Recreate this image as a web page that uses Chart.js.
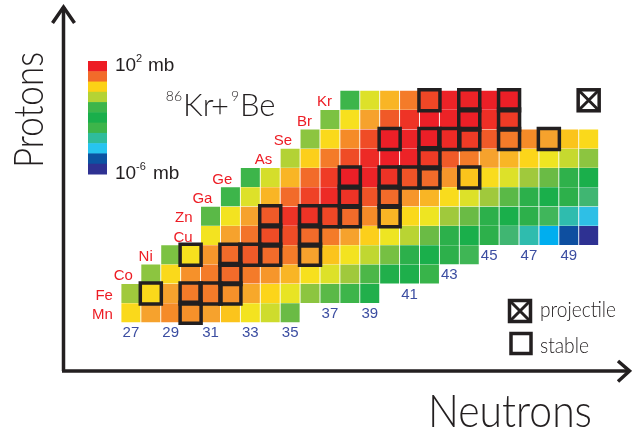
<!DOCTYPE html>
<html>
<head>
<meta charset="utf-8">
<script src="https://cdn.jsdelivr.net/npm/chart.js@4.4.1/dist/chart.umd.min.js"></script>
<style>
  html, body { margin: 0; padding: 0; background: #fff; }
  canvas { display: block; }
</style>
</head>
<body>
<canvas id="graficoNuclidos" width="632" height="434"></canvas>
<script>
// rows of the chart: element, proton number, first neutron number drawn
const elements = ['Mn', 'Fe', 'Co', 'Ni', 'Cu', 'Zn', 'Ga', 'Ge', 'As', 'Se', 'Br', 'Kr'];
const protons  = [25, 26, 27, 28, 29, 30, 31, 32, 33, 34, 35, 36];
const firstN   = [27, 27, 28, 29, 31, 31, 32, 33, 35, 36, 37, 38];

// log10 of the cross section (mb), one value per neutron number starting at firstN
const sigMn = [0.5, 0.95, 1.15, 1.1, 0.95, 0.7, 0.35, 0.05, -0.75];
const sigFe = [-0.3, 0.5, 0.95, 1.25, 1.25, 1.1, 0.9, 0.55, 0.25, -0.45, -0.9, -1.2, -1.6];
const sigCo = [-0.45, 0.5, 1.1, 1.25, 1.35, 1.25, 1.05, 0.8, 0.4, 0.15, -0.3, -1.05, -1.6, -1.65, -2.3];
const sigNi = [-0.6, 0.4, 1.05, 1.35, 1.45, 1.35, 1.25, 0.95, 0.7, 0.35, -0.05, -0.65, -1.45, -1.7, -2.05, -2.6];
const sigCu = [0.35, 0.95, 1.3, 1.55, 1.55, 1.35, 1.25, 0.95, 0.6, 0.3, -0.1, -0.75, -1.45, -1.7, -2.05, -3.2, -3.8, -4.9, -5.4, -6.0];
const sigZn = [-0.9, 0.35, 0.95, 1.45, 1.75, 1.75, 1.6, 1.35, 1.15, 0.8, 0.5, 0.3, -0.3, -0.75, -1.45, -1.7, -2.05, -2.7, -3.8, -4.4];
const sigGa = [-1.2, 0.15, 0.8, 1.35, 1.65, 1.85, 1.75, 1.5, 1.35, 1.05, 0.8, 0.45, 0.15, -0.3, -0.9, -1.45, -1.7, -2.05, -3.2];
const sigGe = [-1.2, 0.1, 0.8, 1.35, 1.7, 2.0, 1.95, 1.75, 1.5, 1.35, 1.05, 0.7, 0.45, 0.15, -0.3, -0.75, -1.4, -1.7];
const sigAs = [-0.15, 0.6, 1.25, 1.55, 1.85, 2.0, 1.95, 1.7, 1.45, 1.25, 0.95, 0.8, 0.55, 0.3, 0.0, -0.45];
const sigSe = [-0.45, 0.5, 1.15, 1.55, 2.0, 1.95, 2.0, 1.85, 1.7, 1.45, 1.25, 1.15, 0.95, 0.7, 0.5];
const sigBr = [-0.6, 0.4, 0.95, 1.45, 1.75, 2.0, 1.95, 2.0, 1.8, 1.7];
const sigKr = [-1.2, 0.15, 0.8, 1.25, 1.6, 1.95, 1.95, 2.0, 2.0];
const sigmas = [sigMn, sigFe, sigCo, sigNi, sigCu, sigZn, sigGa, sigGe, sigAs, sigSe, sigBr, sigKr];

// stable isotopes (neutron numbers)
const stableMn = [30];
const stableFe = [28, 30, 31, 32];
const stableCo = [32];
const stableNi = [30, 32, 33, 34, 36];
const stableCu = [34, 36];
const stableZn = [34, 36, 37, 38, 40];
const stableGa = [38, 40];
const stableGe = [38, 40, 41, 42, 44];
const stableAs = [42];
const stableSe = [40, 42, 43, 44, 46, 48];
const stableBr = [44, 46];
const stableKr = [42, 44, 46];
const stables = [stableMn, stableFe, stableCo, stableNi, stableCu, stableZn, stableGa, stableGe, stableAs, stableSe, stableBr, stableKr];

// neutron number labels and the proton row where each one sits
const nLabels = [27, 29, 31, 33, 35, 37, 39, 41, 43, 45, 47, 49];
const nLabelZ = [24, 24, 24, 24, 24, 25, 25, 26, 27, 28, 28, 28];

// projectile 86Kr
const projN = 50;
const projZ = 36;

// colour scale, log10(mb) -> colour
const colorStops = [
  [2.0, '#ec1f27'], [1.85, '#ed2a26'], [1.75, '#ee3326'], [1.65, '#ef4226'], [1.55, '#ef4c26'],
  [1.45, '#f05a28'], [1.35, '#f26b2a'], [1.25, '#f47b29'], [1.15, '#f58b28'], [1.05, '#f6962b'],
  [0.95, '#f6a22d'], [0.8, '#f9b525'], [0.7, '#fbc41c'], [0.55, '#fcd51a'], [0.4, '#f7e01e'],
  [0.3, '#eee522'], [0.15, '#dde129'], [0.0, '#c6d92f'], [-0.15, '#b3d235'], [-0.3, '#a0c93c'],
  [-0.45, '#8cc540'], [-0.6, '#7cc242'], [-0.75, '#6abb45'], [-0.9, '#5ab947'], [-1.05, '#4cb748'],
  [-1.2, '#3db54a'], [-1.45, '#2cb04b'], [-1.7, '#1aaf4b'], [-2.05, '#2db04b'], [-2.4, '#3db54a'],
  [-2.7, '#40b65b'], [-3.2, '#40b672'], [-3.8, '#2fbcae'], [-4.4, '#2ebfe6'], [-4.9, '#00aeef'],
  [-5.4, '#0e4fa0'], [-6.0, '#2e3192']
];
let barColors = ['#ed1c24', '#f26b2a', '#fcd116', '#b5d334', '#3db54a', '#1aaf4b',
                 '#3db54a', '#2fbc9b', '#27c4f0', '#0c53a2', '#2e3192'];

const ink = '#231f20';

function hexRgb(h) {
  const n = parseInt(h.slice(1), 16);
  return [n >> 16, (n >> 8) & 255, n & 255];
}

function colorFor(v) {
  if (v >= colorStops[0][0]) return colorStops[0][1];
  for (let i = 1; i < colorStops.length; i++) {
    const v1 = colorStops[i][0];
    if (v >= v1) {
      const v0 = colorStops[i - 1][0];
      const t = (v - v1) / (v0 - v1);
      const a = hexRgb(colorStops[i][1]), b = hexRgb(colorStops[i - 1][1]);
      return 'rgb(' + a.map((x, k) => Math.round(x + (b[k] - x) * t)).join(',') + ')';
    }
  }
  return colorStops[colorStops.length - 1][1];
}

const cells = [];
const stableCells = [];
elements.forEach((el, i) => {
  sigmas[i].forEach((v, j) => cells.push({x: firstN[i] + j, y: protons[i], v: v}));
  stables[i].forEach(n => stableCells.push({x: n, y: protons[i]}));
});

// text squeezed to a given width
function fitText(c, s, x, y, font, w) {
  c.font = font;
  const m = c.measureText(s).width;
  c.save();
  c.translate(x, y);
  c.scale(w / m, 1);
  c.textAlign = 'left';
  c.fillText(s, 0, 0);
  c.restore();
}

function crossBox(c, x, y) {
  const h = 10.5;
  c.fillStyle = '#fff';
  c.fillRect(x - h, y - h, 2 * h, 2 * h);
  c.strokeStyle = ink;
  c.lineWidth = 3.5;
  c.strokeRect(x - h, y - h, 2 * h, 2 * h);
  c.lineWidth = 3;
  c.beginPath();
  c.moveTo(x - h, y - h); c.lineTo(x + h, y + h);
  c.moveTo(x + h, y - h); c.lineTo(x - h, y + h);
  c.stroke();
}

const decor = {
  id: 'decor',
  afterDatasetsDraw(chart) {
    const c = chart.ctx, xs = chart.scales.x, ys = chart.scales.y;
    c.save();

    // element names in front of each row
    c.font = '15px "Liberation Sans", Arial, sans-serif';
    c.fillStyle = '#ed1c24';
    c.textAlign = 'right';
    c.textBaseline = 'middle';
    elements.forEach((el, i) => {
      c.fillText(el, xs.getPixelForValue(firstN[i] - 0.5) - 8, ys.getPixelForValue(protons[i]) + 2);
    });

    // neutron numbers
    c.fillStyle = '#3b4da1';
    c.textAlign = 'center';
    nLabels.forEach((n, i) => {
      c.fillText(String(n), xs.getPixelForValue(n), ys.getPixelForValue(nLabelZ[i]) + 1);
    });

    // projectile
    crossBox(c, xs.getPixelForValue(projN), ys.getPixelForValue(projZ));

    // colour bar
    const bh = (174 - 61) / barColors.length;
    barColors.forEach((col, i) => {
      c.fillStyle = col;
      c.fillRect(88, 61 + i * bh, 19, bh + 0.5);
    });
    c.fillStyle = ink;
    c.textBaseline = 'alphabetic';
    c.textAlign = 'left';
    c.font = '19px "Liberation Sans", Arial, sans-serif';
    c.fillText('10', 115, 71);
    c.fillText('mb', 148, 71);
    c.fillText('10', 115, 179);
    c.fillText('mb', 153, 179);
    c.font = '11px "Liberation Sans", Arial, sans-serif';
    c.fillText('2', 136, 62);
    c.fillText('-6', 136, 170);

    // reaction
    c.font = '300 14px Lato, sans-serif';
    c.textAlign = 'right';
    c.fillText('86', 182, 101);
    c.fillText('9', 239, 101);
    c.textAlign = 'left';
    c.font = '300 31px Lato, sans-serif';
    c.fillText('Kr', 183, 116);
    c.fillText('Be', 240, 116);
    c.textAlign = 'center';
    c.fillText('+', 220, 117);

    // legend
    crossBox(c, 520, 311);
    c.strokeStyle = ink;
    c.lineWidth = 3.5;
    c.strokeRect(511, 333.5, 20, 20);
    c.fillStyle = ink;
    fitText(c, 'projectile', 540, 317, '300 22px Lato, sans-serif', 76);
    fitText(c, 'stable', 540, 353, '300 22px Lato, sans-serif', 49);

    // axes with arrows
    c.strokeStyle = ink;
    c.lineWidth = 3.5;
    c.lineJoin = 'miter';
    c.beginPath();
    c.moveTo(63.5, 7); c.lineTo(63.5, 371);
    c.moveTo(62, 371); c.lineTo(629, 371);
    c.stroke();
    c.beginPath();
    c.moveTo(52.5, 23); c.lineTo(63.5, 7); c.lineTo(74.5, 23);
    c.moveTo(618, 361); c.lineTo(629.5, 371); c.lineTo(618, 381.5);
    c.stroke();

    // axis titles
    fitText(c, 'Neutrons', 428, 427, '300 46px Lato, sans-serif', 164);
    c.save();
    c.translate(43, 168);
    c.rotate(-Math.PI / 2);
    fitText(c, 'Protons', 0, 0, '300 42px Lato, sans-serif', 116);
    c.restore();

    c.restore();
  }
};

const ctx = document.getElementById('graficoNuclidos');

new Chart(ctx, {
  type: 'scatter',
  data: {
    datasets: [{
      data: cells,
      order: 2,
      pointStyle: 'rect',
      pointRadius: 13.43,
      pointBorderWidth: 0,
      pointBackgroundColor: c => colorFor(c.raw.v)
    }, {
      data: stableCells,
      order: 1,
      pointStyle: 'rect',
      pointRadius: 14.85,
      pointBorderWidth: 3.5,
      pointBorderColor: ink,
      pointBackgroundColor: 'rgba(0,0,0,0)'
    }]
  },
  options: {
    responsive: false,
    animation: false,
    events: [],
    layout: {padding: 0},
    plugins: {
      legend: {display: false},
      tooltip: {enabled: false}
    },
    scales: {
      x: {type: 'linear', display: false, min: 21.345, max: 51.255},
      y: {type: 'linear', display: false, min: 19.672, max: 40.242}
    }
  },
  plugins: [decor]
});
</script>
</body>
</html>
